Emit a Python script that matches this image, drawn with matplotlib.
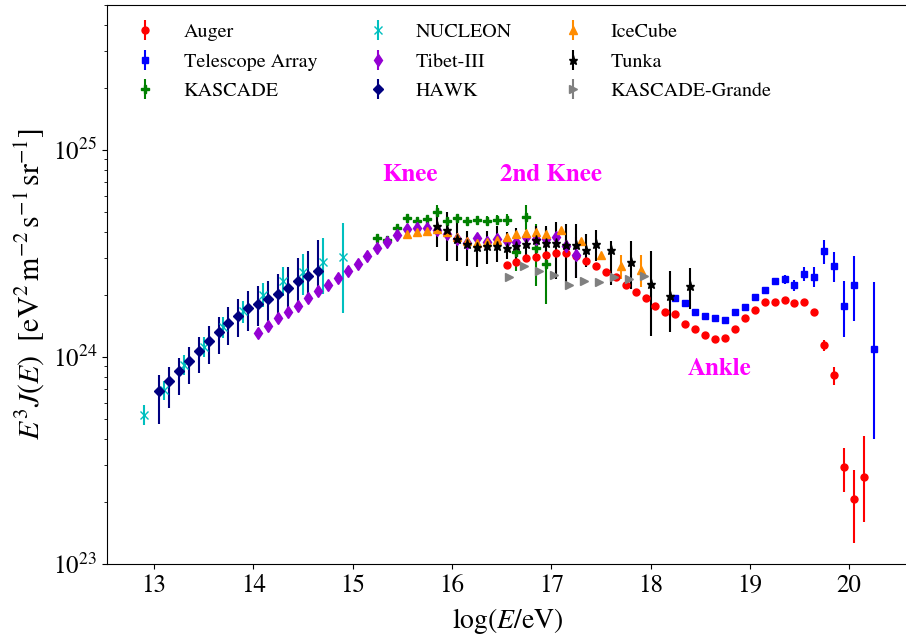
import numpy as np
import matplotlib
matplotlib.use("Agg")
import matplotlib.pyplot as plt

plt.rcParams["font.family"] = ["STIXGeneral", "DejaVu Serif"]
plt.rcParams["mathtext.fontset"] = "stix"

# ---- data: log10(E/eV) and E^3 J(E) in units of 1e24 eV^2 m^-2 s^-1 sr^-1 ----
auger_x = np.round(np.arange(16.55, 20.16, 0.1), 2)
auger_y = [2.782, 2.866, 3.016, 3.050, 3.108, 3.178, 3.178, 3.064, 2.918, 2.761,
           2.574, 2.422, 2.228, 2.069, 1.924, 1.759, 1.646, 1.609, 1.445, 1.367,
           1.279, 1.220, 1.237, 1.367, 1.540, 1.694, 1.839, 1.839, 1.887, 1.825,
           1.839, 1.646, 1.141, 0.814, 0.2947, 0.2057, 0.2627]
auger_lo = auger_y[:32] + [1.063, 0.729, 0.2233, 0.1258, 0.1589]
auger_hi = auger_y[:32] + [1.214, 0.894, 0.364, 0.2838, 0.4157]

ta_x = [18.25, 18.35, 18.45, 18.55, 18.65, 18.75, 18.85, 18.95, 19.05, 19.15,
        19.25, 19.35, 19.45, 19.55, 19.65, 19.75, 19.85, 19.95, 20.05, 20.25]
ta_y = [1.935, 1.825, 1.646, 1.575, 1.540, 1.506, 1.646, 1.745, 1.944, 2.108,
        2.322, 2.369, 2.215, 2.518, 2.427, 3.261, 2.743, 1.759, 2.228, 1.087]
ta_lo = [1.88, 1.77, 1.60, 1.53, 1.49, 1.46, 1.60, 1.70, 1.89, 2.05,
         2.25, 2.24, 2.08, 2.33, 2.17, 2.813, 2.296, 1.247, 1.499, 0.4035]
ta_hi = [1.99, 1.88, 1.70, 1.62, 1.59, 1.55, 1.69, 1.79, 2.00, 2.17,
         2.40, 2.49, 2.36, 2.72, 2.71, 3.684, 3.204, 2.338, 3.064, 2.311]

kascade_x = np.round(np.arange(15.25, 16.96, 0.1), 2)
kascade_y = [3.741, 3.684, 4.208, 4.701, 4.547, 4.634, 4.992, 4.547, 4.670, 4.547,
             4.598, 4.547, 4.598, 4.598, 3.22, 4.73, 3.35, 2.80]
kascade_lo = [3.64, 3.58, 4.10, 4.58, 4.43, 4.50, 4.62, 4.40, 4.50, 4.38,
              4.40, 4.33, 4.35, 4.30, 2.60, 4.10, 2.20, 1.80]
kascade_hi = [3.84, 3.79, 4.32, 4.82, 4.67, 4.77, 5.40, 4.70, 4.84, 4.72,
              4.80, 4.77, 4.85, 4.90, 3.90, 5.40, 4.40, 4.20]

nucleon_x = np.round(np.arange(12.9, 14.91, 0.2), 2)
nucleon_y = [0.527, 0.690, 0.910, 1.123, 1.393, 1.675, 1.994, 2.322, 2.582, 2.884, 3.030]
nucleon_lo = [0.471, 0.617, 0.814, 0.999, 1.233, 1.461, 1.740, 1.978, 1.994, 2.017, 1.634]
nucleon_hi = [0.584, 0.766, 1.017, 1.247, 1.557, 1.872, 2.279, 2.713, 3.144, 3.741, 4.432]

tibet_x = np.round(np.arange(14.05, 17.26, 0.1), 2)
tibet_y = [1.308, 1.409, 1.545, 1.646, 1.771, 1.923, 2.078, 2.236, 2.416, 2.612,
           2.822, 3.057, 3.351, 3.602, 3.880, 4.147, 4.180, 4.194, 4.116, 3.924,
           3.712, 3.538, 3.741, 3.602, 3.712, 3.642, 3.59, 3.783, 3.70, 3.70,
           3.783, 3.445, 3.10]
tibet_lo = tibet_y[:31] + [3.20, 2.40]
tibet_hi = tibet_y[:31] + [3.70, 3.80]

hawk_x = np.round(np.arange(13.05, 14.66, 0.1), 2)
hawk_y = [0.682, 0.762, 0.855, 0.955, 1.071, 1.197, 1.323, 1.461, 1.585, 1.722,
          1.811, 1.908, 2.023, 2.156, 2.322, 2.455, 2.612]
hawk_lo = [0.476, 0.569, 0.652, 0.737, 0.837, 0.927, 1.036, 1.136, 1.247, 1.341,
           1.418, 1.499, 1.575, 1.646, 1.839, 1.923, 2.017]
hawk_hi = [0.821, 0.890, 0.988, 1.116, 1.247, 1.409, 1.557, 1.740, 1.908, 2.078,
           2.212, 2.338, 2.518, 2.713, 2.997, 3.261, 3.684]

icecube_x = [15.55, 15.65, 15.75, 15.85, 15.95, 16.05, 16.15, 16.25, 16.35, 16.45,
             16.55, 16.65, 16.75, 16.85, 16.95, 17.1, 17.3, 17.5, 17.7, 17.9]
icecube_y = [3.924, 4.025, 4.070, 4.147, 3.999, 3.783, 3.642, 3.551, 3.578, 3.684,
             3.783, 3.924, 3.968, 3.999, 3.924, 4.116, 3.642, 3.125, 2.761, 2.632]
icecube_lo = icecube_y[:18] + [2.382, 2.172]
icecube_hi = icecube_y[:18] + [3.108, 3.108]

tunka_x = [15.85, 15.95, 16.05, 16.15, 16.25, 16.35, 16.45, 16.55, 16.65, 16.75,
           16.85, 16.95, 17.05, 17.15, 17.25, 17.35, 17.45, 17.6, 17.8, 18.0,
           18.2, 18.4]
tunka_y = [4.302, 4.102, 3.712, 3.512, 3.385, 3.423, 3.445, 3.347, 3.445, 3.512,
           3.684, 3.551, 3.551, 3.473, 3.473, 3.297, 3.512, 3.297, 2.866, 2.253,
           1.966, 2.196]
tunka_lo = [3.385, 2.918, 2.90, 2.761, 2.713, 2.813, 2.866, 2.973, 2.90, 2.973,
            3.00, 2.866, 2.382, 2.296, 2.40, 2.713, 2.90, 2.228, 2.131, 1.269,
            1.318, 1.707]
tunka_hi = [4.898, 4.992, 4.60, 4.070, 3.924, 4.070, 4.302, 4.025, 4.20, 4.070,
            4.30, 4.302, 4.469, 4.385, 4.40, 3.924, 4.10, 3.642, 3.642, 3.261,
            2.612, 2.682]

kg_x = [16.58, 16.73, 16.88, 17.03, 17.18, 17.33, 17.48, 17.63, 17.78, 17.93]
kg_y = [2.427, 2.743, 2.603, 2.490, 2.228, 2.338, 2.296, 2.435, 2.382, 2.471]

# ---- figure ----
fig = plt.figure(figsize=(9.06, 6.35), dpi=100)
ax = fig.add_axes([107 / 906, 1 - 564 / 635, (908 - 107) / 906, (564 - 5) / 635])


def draw(x, y, lo, hi, fmt, color, label, ms):
    y = np.asarray(y) * 1e24
    lo = np.asarray(lo) * 1e24 if lo is not None else y
    hi = np.asarray(hi) * 1e24 if hi is not None else y
    err = np.vstack([y - lo, hi - y])
    return ax.errorbar(x, y, yerr=err, fmt=fmt, color=color, ecolor=color,
                       elinewidth=1.5, capsize=0, ms=ms, label=label,
                       markeredgewidth=1.0)


draw(auger_x, auger_y, auger_lo, auger_hi, "o", "red", "Auger", 5)
draw(ta_x, ta_y, ta_lo, ta_hi, "s", "blue", "Telescope Array", 5)
draw(kascade_x, kascade_y, kascade_lo, kascade_hi, "P", "green", "KASCADE", 6)
draw(nucleon_x, nucleon_y, nucleon_lo, nucleon_hi, "x", "c", "NUCLEON", 6)
draw(tibet_x, tibet_y, tibet_lo, tibet_hi, "d", "darkviolet", "Tibet-III", 6)
draw(hawk_x, hawk_y, hawk_lo, hawk_hi, "D", "navy", "HAWK", 5)
draw(icecube_x, icecube_y, icecube_lo, icecube_hi, "^", "darkorange", "IceCube", 6)
draw(tunka_x, tunka_y, tunka_lo, tunka_hi, "*", "black", "Tunka", 6.5)
draw(kg_x, kg_y, None, None, ">", "grey", "KASCADE-Grande", 6)

ax.set_yscale("log")
ax.set_xlim(12.527, 20.593)
ax.set_ylim(1e23, 10 ** 25.70)
ax.set_xticks([13, 14, 15, 16, 17, 18, 19, 20])
ax.tick_params(axis="both", which="major", labelsize=18)
ax.spines["right"].set_visible(False)

ax.set_xlabel(r"$\log(E/\mathrm{eV})$", fontsize=20, labelpad=6)
ax.set_ylabel(r"$E^3J(E)\ \ [\mathrm{eV}^2\,\mathrm{m}^{-2}\,\mathrm{s}^{-1}\,\mathrm{sr}^{-1}]$",
              fontsize=21.5)

ax.text(15.58, 7.55e24, "Knee", color="magenta", fontsize=18, fontweight="bold",
        ha="center", va="center")
ax.text(17.0, 7.55e24, "2nd Knee", color="magenta", fontsize=18, fontweight="bold",
        ha="center", va="center")
ax.text(18.70, 8.7e23, "Ankle", color="magenta", fontsize=18, fontweight="bold",
        ha="center", va="center")

ax.legend(ncol=3, loc="upper left", frameon=False, fontsize=14.5,
          bbox_to_anchor=(0.0, 1.0), columnspacing=2.0, handletextpad=0.9,
          labelspacing=0.57)

fig.savefig("out.png", dpi=100)
